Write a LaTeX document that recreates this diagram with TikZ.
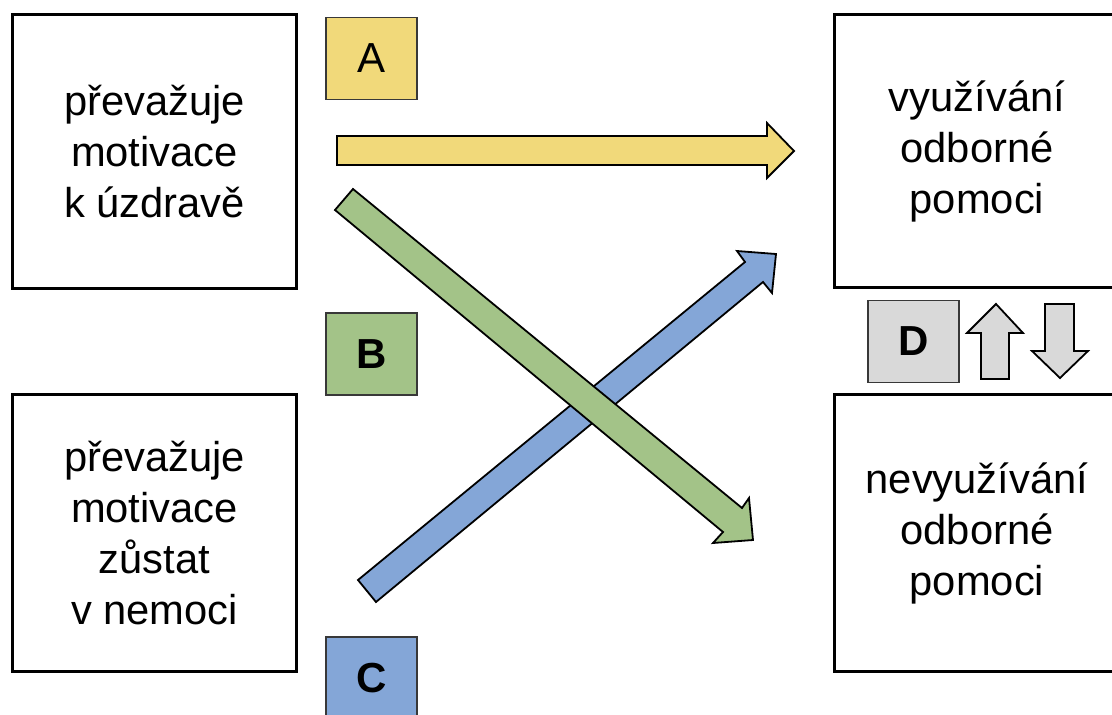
\documentclass[tikz,border=0pt]{standalone}
\usepackage{fontspec}
\setmainfont{Liberation Sans}
\definecolor{ya}{HTML}{F1D97A}
\definecolor{gb}{HTML}{A3C388}
\definecolor{bc}{HTML}{84A6D7}
\definecolor{gd}{HTML}{D9D9D9}
\begin{document}
\begin{tikzpicture}[x=1pt,y=-1pt,
  bigbox/.style={draw=black, line width=3.2pt, fill=white, inner sep=0pt, align=center,
    font=\fontsize{41.7}{51}\selectfont},
  letterbox/.style={draw=black!78, line width=1.8pt, inner sep=0pt,
    minimum width=91pt, minimum height=82pt, font=\fontsize{42}{50}\selectfont},
  blockarrow/.style={draw=black, line width=1.8pt, line join=miter}
]
\useasboundingbox (0,0) rectangle (1112,715);
\clip (0,0) rectangle (1112,715);

% main boxes
\node[bigbox, minimum width=284pt, minimum height=274pt] (tl) at (154.5,151.5)
  {převažuje\\motivace\\k úzdravě};
\node[bigbox, minimum width=284pt, minimum height=277pt] (bl) at (154.5,533)
  {převažuje\\motivace\\zůstat\\v nemoci};
\node[bigbox, minimum width=285pt, minimum height=273pt] (tr) at (977,151)
  {využívání\\odborné\\pomoci};
\node[bigbox, minimum width=285pt, minimum height=277pt] (br) at (977,533)
  {nevyužívání\\odborné\\pomoci};

% letter boxes
\node[letterbox, fill=ya] (A) at (371.5,58.5) {A};
\node[letterbox, fill=gb] (B) at (371.5,354) {\textbf{B}};
\node[letterbox, fill=bc] (C) at (371.5,678) {\textbf{C}};
\node[letterbox, fill=gd] (D) at (913.5,341.5) {\textbf{D}};

% block arrows
\draw[blockarrow, fill=ya] (337,136) -- (767,136) -- (767,123) -- (794,151)
  -- (767,178) -- (767,165) -- (337,165) -- cycle;
\draw[blockarrow, fill=bc] (358,580) -- (745,262) -- (737,251) -- (776,254)
  -- (772,293) -- (763,282) -- (376,602) -- cycle;
\draw[blockarrow, fill=gb] (353,189) -- (742,508) -- (749,498) -- (753,540)
  -- (713,543) -- (723,532) -- (335,210) -- cycle;

% D arrows
\draw[blockarrow, fill=gd] (996,304) -- (1023,333) -- (1009,333) -- (1009,379)
  -- (981,379) -- (981,333) -- (967,333) -- cycle;
\draw[blockarrow, fill=gd] (1045,304) -- (1074,304) -- (1074,351) -- (1088,351)
  -- (1060,378) -- (1032,351) -- (1045,351) -- cycle;
\end{tikzpicture}
\end{document}
